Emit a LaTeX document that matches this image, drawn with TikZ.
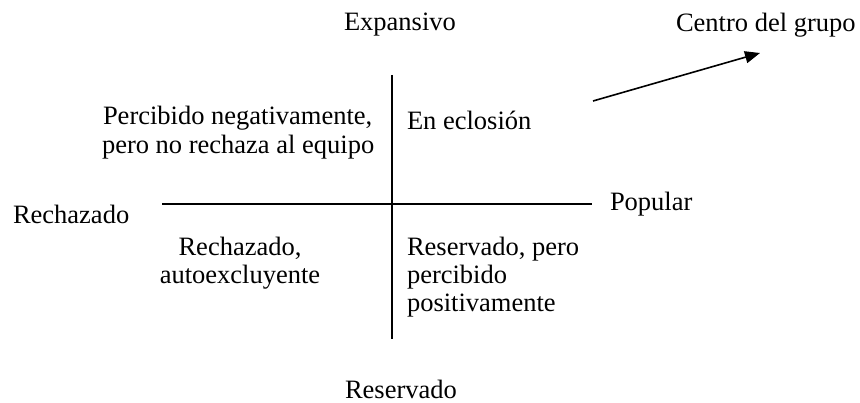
\documentclass[tikz,border=0pt]{standalone}
\usepackage{fontspec}
\setmainfont{Liberation Serif}
\usetikzlibrary{arrows.meta}
\begin{document}
\begin{tikzpicture}[x=1pt,y=-1pt,
  lbl/.style={inner sep=0pt,outer sep=0pt,font=\fontsize{26.5}{28.5}\selectfont},
  axis/.style={line width=1.6pt},
  pointer/.style={line width=1.6pt,-{Triangle[length=15pt,width=12pt]}}]
\useasboundingbox (0,0) rectangle (860,403);
% axes
\coordinate (vtop) at (392,75);
\coordinate (vbot) at (392,339);
\coordinate (hleft) at (162,204);
\coordinate (hright) at (592,204);
\draw[axis] (vtop) -- (vbot);
\draw[axis] (hleft) -- (hright);
% arrow
\coordinate (astart) at (593,101);
\coordinate (aend) at (760,53);
\draw[pointer] (astart) -- (aend);
% labels
\node[lbl,anchor=base west] (exp) at (344,31) {Expansivo};
\node[lbl,anchor=base west] (centro) at (676,32) {Centro del grupo};
\node[lbl,anchor=base west] (rech) at (13,224) {Rechazado};
\node[lbl,anchor=base west] (pop) at (610,211) {Popular};
\node[lbl,anchor=base west] (res) at (345,399) {Reservado};
\node[lbl,anchor=base west] (ecl) at (407,130) {En eclosión};
\node[lbl,anchor=base west] (perc1) at (103,125) {Percibido negativamente,};
\node[lbl,anchor=base west] (perc2) at (102,154) {pero no rechaza al equipo};
\node[lbl,anchor=base] (auto1) at (240,256) {Rechazado,};
\node[lbl,anchor=base] (auto2) at (240,284) {autoexcluyente};
\node[lbl,anchor=base west] (rp1) at (407,256) {Reservado, pero};
\node[lbl,anchor=base west] (rp2) at (407,284) {percibido};
\node[lbl,anchor=base west] (rp3) at (407,312) {positivamente};
\end{tikzpicture}
\end{document}
